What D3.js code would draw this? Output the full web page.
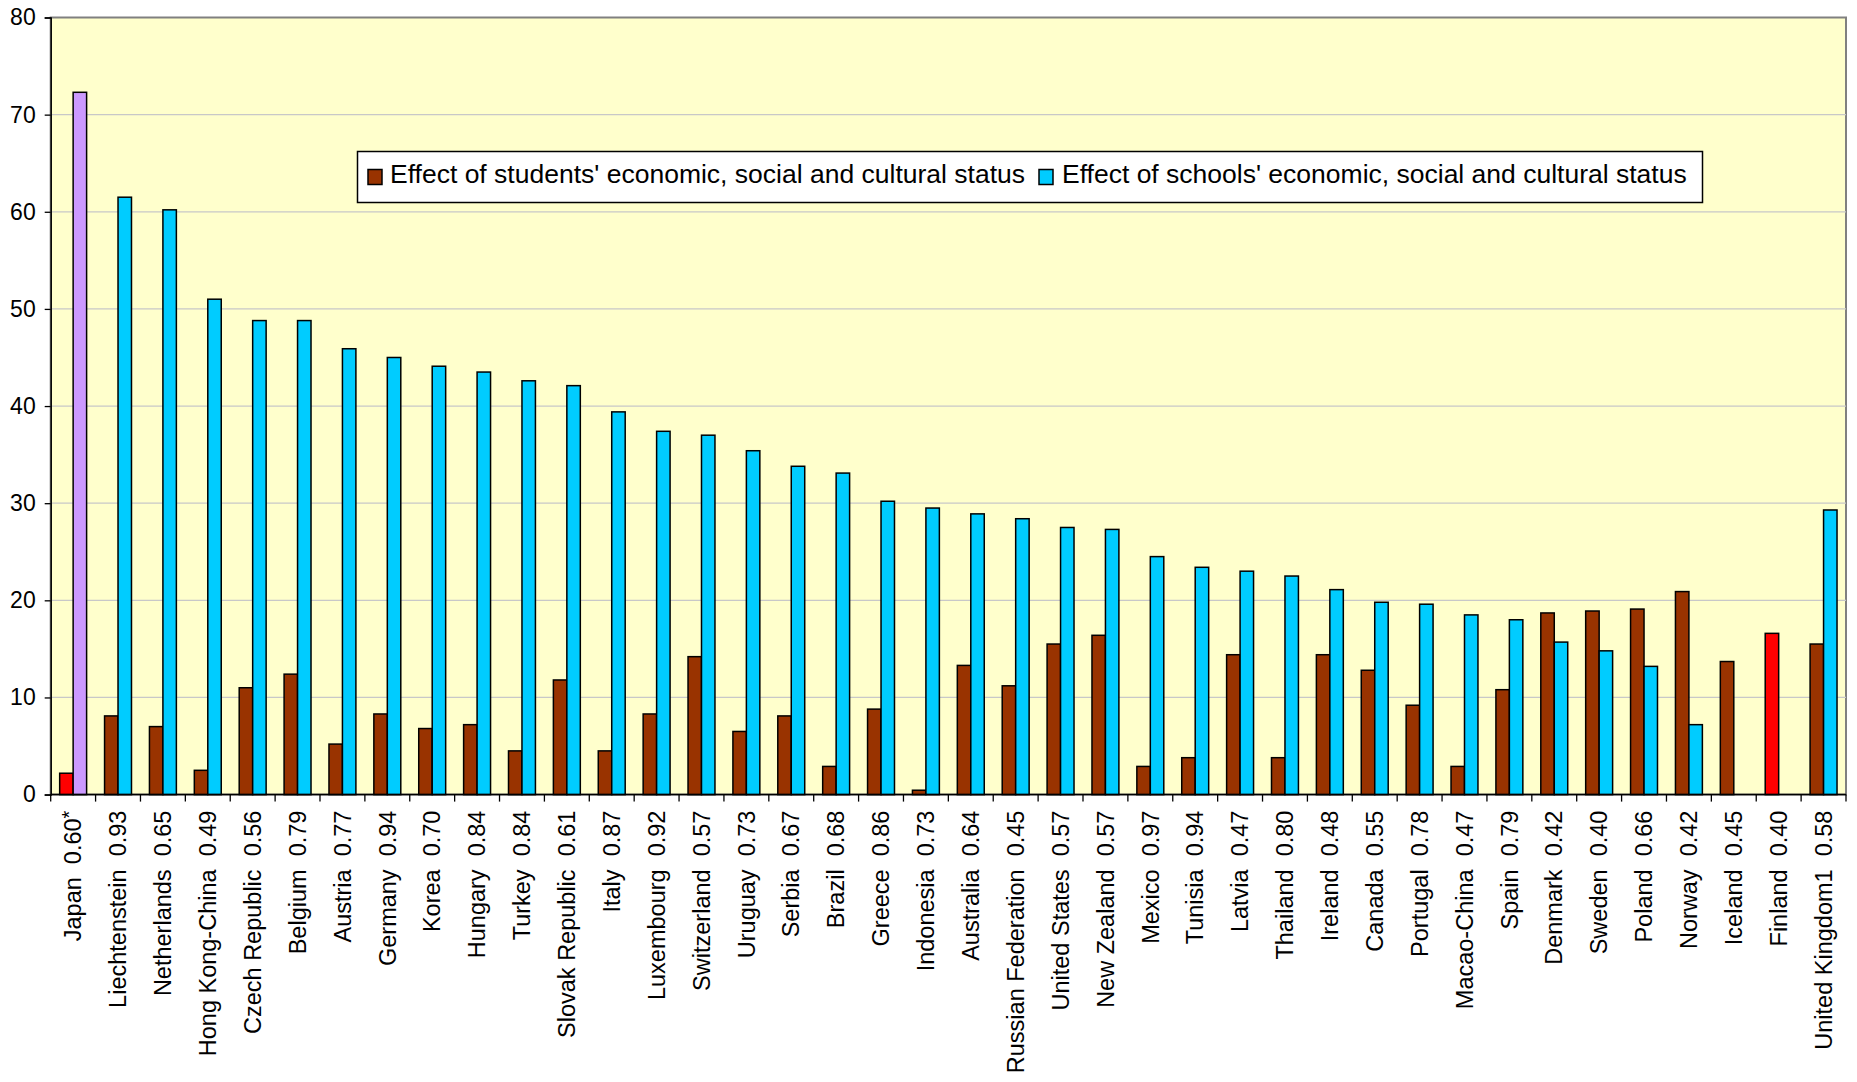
<!DOCTYPE html>
<html>
<head>
<meta charset="utf-8">
<script src="https://cdn.jsdelivr.net/npm/d3@7"></script>
<style>
  html, body { margin: 0; padding: 0; background: #ffffff; }
  svg { display: block; font-family: "Liberation Sans", Arial, sans-serif; }
  .cat-label { white-space: pre; }
</style>
</head>
<body>
<svg id="chart" width="1857" height="1082"></svg>
<script>
// Countries, ordered by the effect of schools' ESCS
const countries = [
  "Japan", "Liechtenstein", "Netherlands", "Hong Kong-China", "Czech Republic",
  "Belgium", "Austria", "Germany", "Korea", "Hungary",
  "Turkey", "Slovak Republic", "Italy", "Luxembourg", "Switzerland",
  "Uruguay", "Serbia", "Brazil", "Greece", "Indonesia",
  "Australia", "Russian Federation", "United States", "New Zealand", "Mexico",
  "Tunisia", "Latvia", "Thailand", "Ireland", "Canada",
  "Portugal", "Macao-China", "Spain", "Denmark", "Sweden",
  "Poland", "Norway", "Iceland", "Finland", "United Kingdom1"
];

// Number printed after each country name
const ratios = [
  "0.60", "0.93", "0.65", "0.49", "0.56",
  "0.79", "0.77", "0.94", "0.70", "0.84",
  "0.84", "0.61", "0.87", "0.92", "0.57",
  "0.73", "0.67", "0.68", "0.86", "0.73",
  "0.64", "0.45", "0.57", "0.57", "0.97",
  "0.94", "0.47", "0.80", "0.48", "0.55",
  "0.78", "0.47", "0.79", "0.42", "0.40",
  "0.66", "0.42", "0.45", "0.40", "0.58"
];

// Footnote marks attached to a label
const labelNotes = { "Japan": "*" };

// Effect of students' economic, social and cultural status
const studentEffect = [
  2.2, 8.1, 7.0, 2.5, 11.0,
  12.4, 5.2, 8.3, 6.8, 7.2,
  4.5, 11.8, 4.5, 8.3, 14.2,
  6.5, 8.1, 2.9, 8.8, 0.45,
  13.3, 11.2, 15.5, 16.4, 2.9,
  3.8, 14.4, 3.8, 14.4, 12.8,
  9.2, 2.9, 10.8, 18.7, 18.9,
  19.1, 20.9, 13.7, 16.6, 15.5
];

// Effect of schools' economic, social and cultural status
const schoolEffect = [
  72.3, 61.5, 60.2, 51.0, 48.8,
  48.8, 45.9, 45.0, 44.1, 43.5,
  42.6, 42.1, 39.4, 37.4, 37.0,
  35.4, 33.8, 33.1, 30.2, 29.5,
  28.9, 28.4, 27.5, 27.3, 24.5,
  23.4, 23.0, 22.5, 21.1, 19.8,
  19.6, 18.5, 18.0, 15.7, 14.8,
  13.2, 7.2, null, null, 29.3
];

const yTicks = [0, 10, 20, 30, 40, 50, 60, 70, 80];

const seriesNames = [
  "Effect of students' economic, social and cultural status",
  "Effect of schools' economic, social and cultural status"
];

// ---- styling ----
const colors = { student: "#993300", school: "#00CCFF" };
const studentOverride = { "Japan": "#FF0000", "Finland": "#FF0000" };
const schoolOverride = { "Japan": "#CC99FF" };

const svg = d3.select("#chart");
const plot = { left: 50.7, right: 1846, top: 17.5, bottom: 794.6 };

const x = d3.scaleBand()
  .domain(countries)
  .range([plot.left, plot.right])
  .paddingInner(0).paddingOuter(0);

const xSub = d3.scaleBand()
  .domain(["student", "school"])
  .range([0, x.bandwidth()])
  .paddingInner(0)
  .paddingOuter(2 / 3);

const y = d3.scaleLinear()
  .domain([0, 80])
  .range([plot.bottom, plot.top]);

// plot area background and frame
svg.append("rect")
  .attr("x", plot.left).attr("y", plot.top)
  .attr("width", plot.right - plot.left)
  .attr("height", plot.bottom - plot.top)
  .attr("fill", "#FFFFCC")
  .attr("stroke", "#808080")
  .attr("stroke-width", 2);

// horizontal gridlines
svg.append("g")
  .selectAll("line")
  .data(yTicks.filter(t => t > 0 && t < 80))
  .join("line")
  .attr("x1", plot.left).attr("x2", plot.right)
  .attr("y1", d => y(d)).attr("y2", d => y(d))
  .attr("stroke", "#C8C8C8")
  .attr("stroke-width", 1.2);

// bars
const rows = countries.map((c, i) => ({
  country: c,
  values: [
    { key: "student", value: studentEffect[i] },
    { key: "school", value: schoolEffect[i] }
  ]
}));

const groups = svg.append("g")
  .selectAll("g")
  .data(rows)
  .join("g")
  .attr("transform", d => `translate(${x(d.country)},0)`);

groups.selectAll("rect")
  .data(d => d.values.filter(v => v.value != null).map(v => ({ ...v, country: d.country })))
  .join("rect")
  .attr("x", d => xSub(d.key))
  .attr("width", xSub.bandwidth())
  .attr("y", d => y(d.value))
  .attr("height", d => y(0) - y(d.value))
  .attr("fill", d => {
    if (d.key === "student") return studentOverride[d.country] || colors.student;
    return schoolOverride[d.country] || colors.school;
  })
  .attr("stroke", "#000")
  .attr("stroke-width", 1.5);

// y axis
const yAxis = d3.axisLeft(y)
  .tickValues(yTicks)
  .tickSize(6)
  .tickPadding(9)
  .tickFormat(d3.format("d"));

const gy = svg.append("g")
  .attr("transform", `translate(${plot.left},0)`)
  .call(yAxis);
gy.select(".domain").attr("stroke", "#000").attr("stroke-width", 1.5);
gy.selectAll(".tick line").attr("stroke", "#000").attr("stroke-width", 1.3);
gy.selectAll(".tick text")
  .attr("fill", "#000")
  .style("font-size", "23px")
  .style("font-family", "'Liberation Sans', Arial, sans-serif");

// x axis line and category boundary ticks
svg.append("line")
  .attr("x1", plot.left).attr("x2", plot.right)
  .attr("y1", y(0)).attr("y2", y(0))
  .attr("stroke", "#000").attr("stroke-width", 1.5);

const boundaries = countries.map(c => x(c)).concat([plot.right]);
svg.append("g")
  .selectAll("line")
  .data(boundaries)
  .join("line")
  .attr("x1", d => d).attr("x2", d => d)
  .attr("y1", y(0)).attr("y2", y(0) + 7)
  .attr("stroke", "#000").attr("stroke-width", 1.3);

// rotated category labels
const labels = svg.append("g")
  .selectAll("text")
  .data(countries)
  .join("text")
  .attr("class", "cat-label")
  .attr("transform", d => `translate(${x(d) + x.bandwidth() / 2},${y(0) + 16}) rotate(-90)`)
  .attr("text-anchor", "end")
  .attr("dy", "0.35em")
  .style("font-size", "23.5px")
  .attr("fill", "#000");

labels.append("tspan")
  .text((d, i) => `${d}  ${ratios[i]}`);

labels.filter(d => labelNotes[d])
  .append("tspan")
  .attr("dy", "-0.25em")
  .style("font-size", "20px")
  .text(d => labelNotes[d]);

// legend
const legend = svg.append("g");
legend.append("rect")
  .attr("x", 357.5).attr("y", 151.5)
  .attr("width", 1345).attr("height", 51)
  .attr("fill", "#fff")
  .attr("stroke", "#000").attr("stroke-width", 1.5);

const legendItems = [
  { name: seriesNames[0], color: colors.student, sx: 368, tx: 390 },
  { name: seriesNames[1], color: colors.school, sx: 1039, tx: 1062 }
];

legend.selectAll("rect.sw")
  .data(legendItems)
  .join("rect")
  .attr("class", "sw")
  .attr("x", d => d.sx).attr("y", 169.5)
  .attr("width", 14).attr("height", 15)
  .attr("fill", d => d.color)
  .attr("stroke", "#000").attr("stroke-width", 1.5);

legend.selectAll("text")
  .data(legendItems)
  .join("text")
  .attr("x", d => d.tx).attr("y", 182.5)
  .style("font-size", "26.5px")
  .attr("fill", "#000")
  .text(d => d.name);
</script>
</body>
</html>
